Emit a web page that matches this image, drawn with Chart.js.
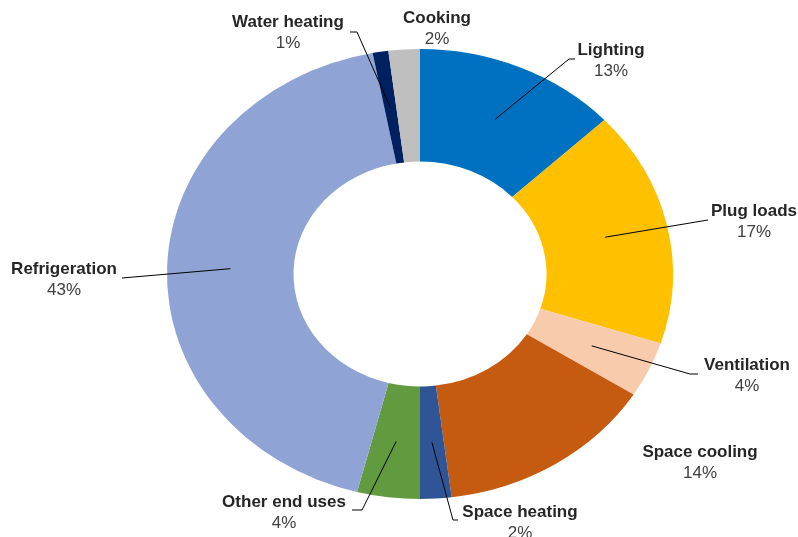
<!DOCTYPE html>
<html>
<head>
<meta charset="utf-8">
<script src="https://cdn.jsdelivr.net/npm/chart.js@4"></script>
<style>
  body { margin: 0; background: #fff; }
</style>
</head>
<body>
<canvas id="endUses" width="798" height="537"></canvas>
<script>
const categories = ['Lighting', 'Plug loads', 'Ventilation', 'Space cooling', 'Space heating',
    'Other end uses', 'Refrigeration', 'Water heating', 'Cooking'];
const shares = [13, 17, 4, 14, 2, 4, 43, 1, 2];
const shareLabels = ['13%', '17%', '4%', '14%', '2%', '4%', '43%', '1%', '2%'];
const sliceColors = ['#0070C0', '#FFC000', '#F8CBAD', '#C55A11', '#2F5597',
    '#629B3F', '#8FA4D4', '#002060', '#BFBFBF'];

// where the labels sit (centre of the name line) and the bend of each leader line
const labelSpots = [
    [611, 50], [754, 211], [747, 365], [700, 452], [520, 512],
    [284, 502], [64, 269], [288, 22], [437, 18],
];
const leaderBends = [
    [[569, 59], [575, 59]],
    [[708, 220]],
    [[690, 374], [698, 374]],
    null,
    [[453, 520], [458, 520]],
    [[362, 510], [352, 510]],
    [[122, 278]],
    [[357, 32], [350, 32]],
    null,
];

// excel stretched the ring: 253px wide radius, 225px tall radius
const squash = 225 / 253;

const ellipsePlugin = {
    id: 'ellipse',
    beforeDatasetsDraw(chart) {
        const arc = chart.getDatasetMeta(0).data[0];
        const ctx = chart.ctx;
        ctx.save();
        ctx.translate(arc.x, arc.y);
        ctx.scale(1, squash);
        ctx.translate(-arc.x, -arc.y);
    },
    afterDatasetsDraw(chart) {
        chart.ctx.restore();
    },
};

const labelPlugin = {
    id: 'endUseLabels',
    afterDraw(chart) {
        const ctx = chart.ctx;
        const arcs = chart.getDatasetMeta(0).data;
        ctx.save();
        ctx.strokeStyle = '#000000';
        ctx.lineWidth = 1;
        arcs.forEach((arc, i) => {
            const bends = leaderBends[i];
            if (!bends) return;
            const p = arc.getCenterPoint();
            const y = arc.y + (p.y - arc.y) * squash;
            ctx.beginPath();
            ctx.moveTo(p.x, y);
            bends.forEach(b => ctx.lineTo(b[0], b[1]));
            ctx.stroke();
        });
        ctx.textAlign = 'center';
        ctx.textBaseline = 'middle';
        categories.forEach((name, i) => {
            const [x, y] = labelSpots[i];
            ctx.font = 'bold 17px "Liberation Sans", Arial, sans-serif';
            ctx.fillStyle = '#262626';
            ctx.fillText(name, x, y);
            ctx.font = '17px "Liberation Sans", Arial, sans-serif';
            ctx.fillStyle = '#404040';
            ctx.fillText(shareLabels[i], x, y + 21);
        });
        ctx.restore();
    },
};

new Chart(document.getElementById('endUses').getContext('2d'), {
    type: 'doughnut',
    data: {
        labels: categories,
        datasets: [{
            data: shares,
            backgroundColor: sliceColors,
            borderWidth: 0,
        }],
    },
    options: {
        responsive: false,
        animation: false,
        cutout: '50%',
        layout: {
            padding: { left: 167, right: 125, top: 21, bottom: 10 },
        },
        plugins: {
            legend: { display: false },
            tooltip: { enabled: false },
        },
        events: [],
    },
    plugins: [ellipsePlugin, labelPlugin],
});
</script>
</body>
</html>
